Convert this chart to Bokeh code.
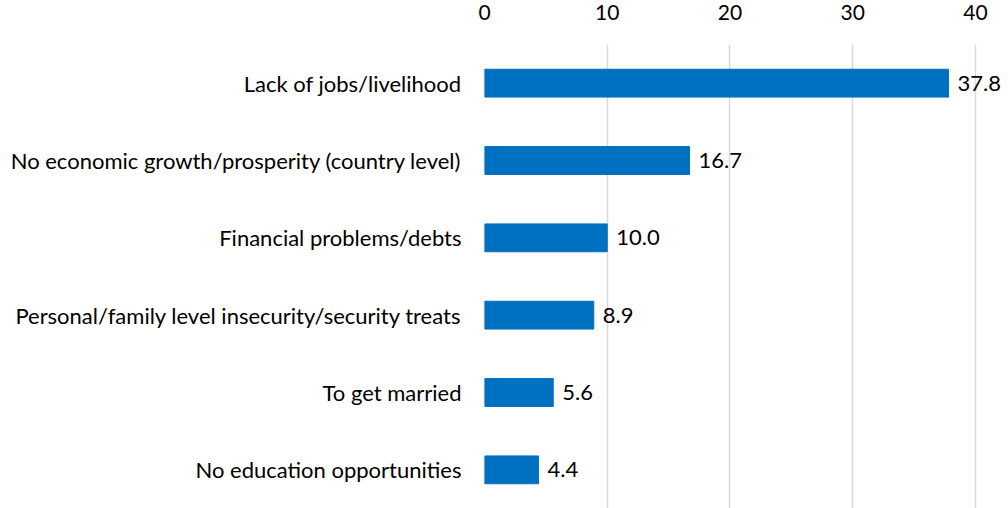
from bokeh.plotting import figure
from bokeh.models import Range1d, FactorRange, ColumnDataSource, FixedTicker, LabelSet
from bokeh.core.properties import value
from bokeh.embed import file_html
from bokeh.resources import INLINE

categories = [
    "Lack of jobs/livelihood",
    "No economic growth/prosperity (country level)",
    "Financial problems/debts",
    "Personal/family level insecurity/security treats",
    "To get married",
    "No education opportunities",
]
values = [37.8, 16.7, 10.0, 8.9, 5.6, 4.4]
labels = [f"{v:.1f}" for v in values]
x_ticks = [0, 10, 20, 30, 40]

FONT = "Lato"
BLUE = "#0070C0"

src = ColumnDataSource(dict(cat=categories, val=values, lab=labels))

p = figure(
    width=1008, height=508,
    y_range=FactorRange(factors=list(reversed(categories))),
    x_range=Range1d(0, 42.69),
    x_axis_location="above",
    output_backend="svg", toolbar_location=None,
    min_border_left=484, min_border_right=0, min_border_top=44, min_border_bottom=0,
)
p.outline_line_color = None
p.background_fill_color = "white"
p.border_fill_color = "white"

p.hbar(y="cat", right="val", left=0, height=0.36, source=src, color=BLUE)

lbl = LabelSet(x="val", y="cat", text="lab", source=src, x_offset=9, y_offset=0,
               text_font=value(FONT), text_font_size="22px", text_color="#000000",
               text_baseline="middle", text_align="left")
p.add_layout(lbl)

p.xaxis.ticker = FixedTicker(ticks=x_ticks)
p.xaxis.axis_line_color = None
p.xaxis.major_tick_line_color = None
p.xaxis.minor_tick_line_color = None
p.xaxis.major_tick_out = 0
p.xaxis.major_label_standoff = 25
p.xaxis.major_label_text_font = FONT
p.xaxis.major_label_text_font_size = "21px"
p.xaxis.major_label_text_color = "#000000"

p.yaxis.axis_line_color = None
p.yaxis.major_tick_line_color = None
p.yaxis.major_tick_out = 0
p.yaxis.major_label_standoff = 23
p.yaxis.major_label_text_font = FONT
p.yaxis.major_label_text_font_size = "22px"
p.yaxis.major_label_text_color = "#000000"

p.xgrid.ticker = FixedTicker(ticks=x_ticks)
p.xgrid.grid_line_color = "#D9D9D9"
p.xgrid.grid_line_width = 1.5
p.ygrid.grid_line_color = None

open("out.html", "w").write(file_html(p, INLINE))
